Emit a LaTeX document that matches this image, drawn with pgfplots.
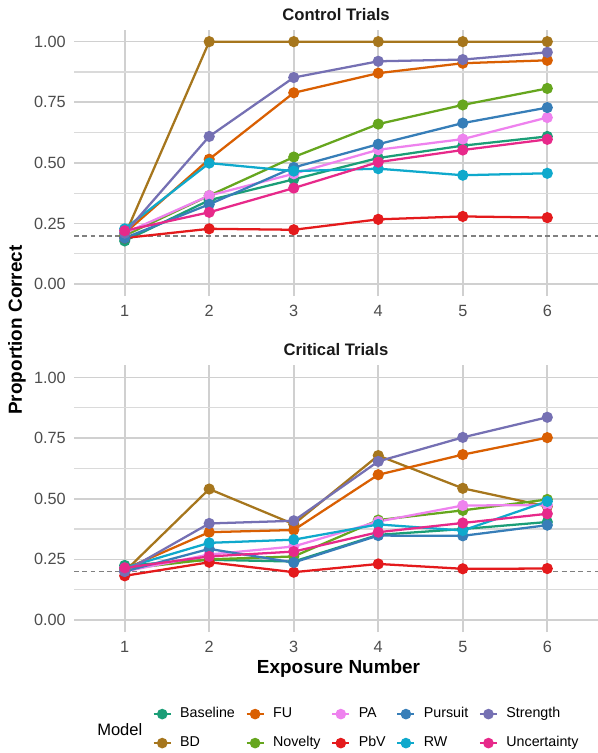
\documentclass[border=0pt]{standalone}
\usepackage{fontspec}
\setmainfont{Liberation Sans}
\usepackage{pgfplots}
\pgfplotsset{compat=1.18}
\definecolor{cBaseline}{HTML}{1B9E77}
\definecolor{cBD}{HTML}{A6761D}
\definecolor{cFU}{HTML}{D95F02}
\definecolor{cNovelty}{HTML}{66A61E}
\definecolor{cPA}{HTML}{EE82EE}
\definecolor{cPbV}{HTML}{E41A1C}
\definecolor{cPursuit}{HTML}{377EB8}
\definecolor{cRW}{HTML}{0FA9CC}
\definecolor{cStrength}{HTML}{7570B3}
\definecolor{cUncertainty}{HTML}{E7298A}
\definecolor{ticktext}{HTML}{4D4D4D}
\definecolor{gridmaj}{HTML}{D0D0D0}
\definecolor{gridmin}{HTML}{DADADA}
\definecolor{refline}{HTML}{808080}
\pgfplotsset{
  ser/.style={color=#1, line width=1.7pt, mark=*, mark size=3.3pt, mark options={solid}, forget plot},
  lser/.style={color=#1, line width=1.7pt, mark=*, mark size=3.1pt, mark options={solid}},
  every axis title shift=0pt,
  panel/.style={
    scale only axis, width=393pt, height=200pt,
    anchor=south west,
    xmin=0.4, xmax=6.6, ymin=-0.05, ymax=1.05,
    xtick={1,2,3,4,5,6}, xticklabels={1,2,3,4,5,6},
    ytick={0,0.25,0.5,0.75,1}, yticklabels={0.00,0.25,0.50,0.75,1.00},
    minor ytick={0.125,0.375,0.625,0.875},
    xmajorgrids, ymajorgrids, yminorgrids,
    major grid style={gridmaj, line width=1.2pt},
    minor grid style={gridmin, line width=0.9pt},
    axis line style={draw=none},
    tick style={draw=none},
    major tick length=0pt, minor tick length=0pt,
    /pgf/number format/assume math mode=true,
    yticklabel style={font=\fontsize{12.2}{14}\selectfont, text=ticktext, inner sep=0pt, anchor=east, xshift=-6pt},
    xticklabel style={font=\fontsize{12.2}{14}\selectfont, text=ticktext, inner sep=0pt, anchor=north, yshift=-6.4pt},
    title style={font=\fontsize{12.5}{14}\selectfont\bfseries, text=black!90, at={(0.5,1)}, anchor=base, yshift=7.1pt, inner sep=0pt},
    clip=false,
  },
}
\begin{document}
\begin{tikzpicture}
\useasboundingbox (0,0) rectangle (448.5pt,564.75pt);
% ---------------- Control Trials ----------------
\begin{axis}[panel, at={(55.5pt,342.6pt)}, title={Control Trials}]
\addplot[forget plot, color=refline, line width=1.4pt, dash pattern=on 3.6pt off 2.6pt] coordinates {(0.4,0.2) (6.6,0.2)};
\addplot[ser=cBaseline] coordinates {(1,0.178) (2,0.346) (3,0.432) (4,0.520) (5,0.571) (6,0.609)};
\addplot[ser=cBD] coordinates {(1,0.200) (2,1.000) (3,1.000) (4,1.000) (5,1.000) (6,1.000)};
\addplot[ser=cFU] coordinates {(1,0.210) (2,0.515) (3,0.789) (4,0.870) (5,0.911) (6,0.923)};
\addplot[ser=cNovelty] coordinates {(1,0.200) (2,0.365) (3,0.524) (4,0.660) (5,0.739) (6,0.807)};
\addplot[ser=cPA] coordinates {(1,0.210) (2,0.365) (3,0.455) (4,0.554) (5,0.598) (6,0.687)};
\addplot[ser=cPbV] coordinates {(1,0.190) (2,0.228) (3,0.224) (4,0.267) (5,0.279) (6,0.274)};
\addplot[ser=cPursuit] coordinates {(1,0.190) (2,0.329) (3,0.481) (4,0.577) (5,0.664) (6,0.728)};
\addplot[ser=cRW] coordinates {(1,0.228) (2,0.499) (3,0.466) (4,0.476) (5,0.449) (6,0.457)};
\addplot[ser=cStrength] coordinates {(1,0.210) (2,0.609) (3,0.852) (4,0.919) (5,0.926) (6,0.956)};
\addplot[ser=cUncertainty] coordinates {(1,0.220) (2,0.296) (3,0.396) (4,0.503) (5,0.553) (6,0.597)};
\end{axis}
% ---------------- Critical Trials ----------------
\begin{axis}[panel, at={(55.5pt,90.7pt)}, title={Critical Trials},
  legend columns=5,
  legend cell align=left,
  legend style={at={(0.150,-0.2814)}, anchor=north west, draw=none, fill=none,
    inner sep=0pt, outer sep=0pt, row sep=11.25pt, column sep=0pt,
    font=\fontsize{10.7}{12}\selectfont,
    nodes={inner sep=0pt, text height=8pt, text depth=2.5pt},
    /tikz/every odd column/.append style={column sep=6.2pt},
    /tikz/every even column/.append style={column sep=7.9pt}},
  legend image code/.code={\draw[#1, mark repeat=2, mark phase=2] plot coordinates {(0pt,0pt) (6.4pt,0pt) (12.8pt,0pt)};},
]
\addplot[forget plot, color=refline, line width=1.4pt, dash pattern=on 3.6pt off 2.6pt] coordinates {(0.4,0.2) (6.6,0.2)};
\addplot[ser=cBaseline] coordinates {(1,0.225) (2,0.248) (3,0.241) (4,0.351) (5,0.375) (6,0.404)};
\addplot[ser=cBD] coordinates {(1,0.200) (2,0.540) (3,0.395) (4,0.678) (5,0.543) (6,0.468)};
\addplot[ser=cFU] coordinates {(1,0.210) (2,0.362) (3,0.371) (4,0.599) (5,0.682) (6,0.752)};
\addplot[ser=cNovelty] coordinates {(1,0.210) (2,0.250) (3,0.262) (4,0.412) (5,0.452) (6,0.497)};
\addplot[ser=cPA] coordinates {(1,0.200) (2,0.270) (3,0.303) (4,0.406) (5,0.472) (6,0.474)};
\addplot[ser=cPbV] coordinates {(1,0.182) (2,0.238) (3,0.197) (4,0.231) (5,0.211) (6,0.212)};
\addplot[ser=cPursuit] coordinates {(1,0.200) (2,0.293) (3,0.237) (4,0.348) (5,0.347) (6,0.391)};
\addplot[ser=cRW] coordinates {(1,0.215) (2,0.318) (3,0.331) (4,0.394) (5,0.369) (6,0.489)};
\addplot[ser=cStrength] coordinates {(1,0.200) (2,0.398) (3,0.409) (4,0.654) (5,0.753) (6,0.836)};
\addplot[ser=cUncertainty] coordinates {(1,0.215) (2,0.262) (3,0.282) (4,0.362) (5,0.400) (6,0.438)};
\addlegendimage{lser=cBaseline}\addlegendentry{Baseline}
\addlegendimage{lser=cFU}\addlegendentry{FU}
\addlegendimage{lser=cPA}\addlegendentry{PA}
\addlegendimage{lser=cPursuit}\addlegendentry{Pursuit}
\addlegendimage{lser=cStrength}\addlegendentry{Strength}
\addlegendimage{lser=cBD}\addlegendentry{BD}
\addlegendimage{lser=cNovelty}\addlegendentry{Novelty}
\addlegendimage{lser=cPbV}\addlegendentry{PbV}
\addlegendimage{lser=cRW}\addlegendentry{RW}
\addlegendimage{lser=cUncertainty}\addlegendentry{Uncertainty}
\end{axis}
\node[anchor=base, rotate=90, font=\fontsize{14.2}{16}\selectfont\bfseries, inner sep=0pt] at (16.5pt,317.25pt) {Proportion Correct};
\node[anchor=base, font=\fontsize{14.2}{16}\selectfont\bfseries, inner sep=0pt] at (253.9pt,59.8pt) {Exposure Number};
\node[anchor=west, font=\fontsize{12.4}{14}\selectfont, inner sep=0pt] at (72.75pt,17.25pt) {Model};
\end{tikzpicture}
\end{document}
